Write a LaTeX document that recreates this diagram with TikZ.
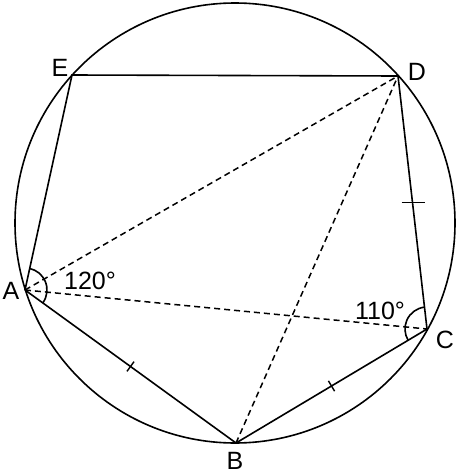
\documentclass[tikz,border=0pt]{standalone}
\usepackage{fontspec}
\setmainfont{Liberation Sans}
\usetikzlibrary{angles,calc}
\begin{document}
\begin{tikzpicture}[x=1pt,y=-1pt,
  solidline/.style={line width=1.6pt},
  dashline/.style={line width=1.5pt, dash pattern=on 6pt off 4pt},
  lbl/.style={font=\fontsize{25}{28}\selectfont, inner sep=0pt},
  tick/.style={line width=1.4pt}]
\useasboundingbox (0,0) rectangle (463,474);
\coordinate (O) at (235,223);
\coordinate (E) at (72,75);
\coordinate (D) at (398,76);
\coordinate (A) at (25,290);
\coordinate (B) at (236,443);
\coordinate (C) at (427,329);
\node[solidline, draw, circle, minimum size=440pt, inner sep=0pt] (circ) at (O) {};
\draw[solidline] (A) -- (E) -- (D) -- (C) -- (B) -- (A);
\draw[dashline] (A) -- (D);
\draw[dashline] (A) -- (C);
\draw[dashline] (B) -- (D);
\pic[draw, solidline, angle radius=22pt] {angle = B--A--E};
\pic[draw, solidline, angle radius=22pt] {angle = D--C--B};
% ticks
\coordinate (mDC) at ($(D)!0.5!(C)$);
\draw[tick] ($(mDC)+(-11,0)$) -- ($(mDC)+(12,0)$);
\draw[tick] ($($(A)!0.5!(B)$)!6pt!90:(B)$) -- ($($(A)!0.5!(B)$)!6pt!-90:(B)$);
\draw[tick] ($($(B)!0.5!(C)$)!6pt!90:(C)$) -- ($($(B)!0.5!(C)$)!6pt!-90:(C)$);
\node[lbl] (lE) at (60,68) {E};
\node[lbl] (lD) at (417,72) {D};
\node[lbl] (lA) at (11,291) {A};
\node[lbl] (lB) at (235,461) {B};
\node[lbl] (lC) at (445,340) {C};
\node[lbl] (l120) at (90,281) {120°};
\node[lbl] (l110) at (380,311) {110°};
\end{tikzpicture}
\end{document}
